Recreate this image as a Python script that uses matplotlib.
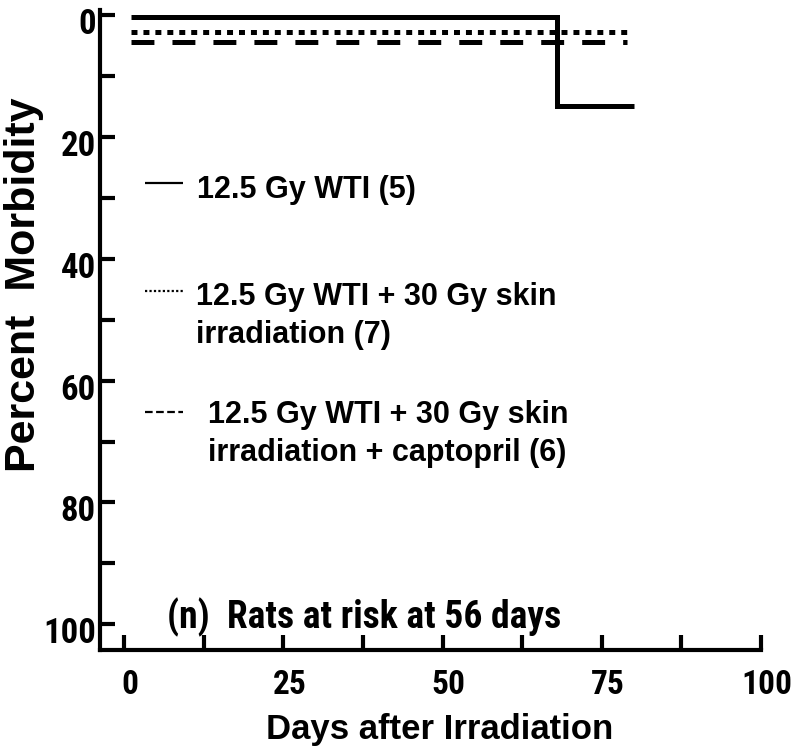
import matplotlib
matplotlib.use("Agg")
import matplotlib.pyplot as plt
from matplotlib.ticker import MultipleLocator, FixedLocator
from matplotlib.lines import Line2D
import matplotlib.transforms as mtransforms

# ---- data ----
wti_days = [1, 68, 80]
wti_morb = [0.4, 15, 15]

skin_days = [1, 79]
skin_morb = [2.8, 2.8]

capto_days = [1, 79]
capto_morb = [4.4, 4.4]

x_ticks = [0, 25, 50, 75, 100]
y_ticks = [0, 20, 40, 60, 80, 100]

legend_labels = ["12.5 Gy WTI (5)",
                 "12.5 Gy WTI + 30 Gy skin\nirradiation (7)",
                 "12.5 Gy WTI + 30 Gy skin\nirradiation + captopril (6)"]

plt.rcParams['lines.scale_dashes'] = False
NARROW = ['Roboto Condensed', 'IBM Plex Sans Condensed', 'Liberation Sans', 'DejaVu Sans']
REG = ['Liberation Sans', 'DejaVu Sans']

W, H = 800, 753
fig = plt.figure(figsize=(W / 100, H / 100), dpi=100)
ax = fig.add_axes([100 / W, (H - 650) / H, (761 - 100) / W, (650 - 10) / H])

lw = 3.6
ax.plot(wti_days, wti_morb, drawstyle='steps-post', color='black', lw=lw,
        solid_capstyle='butt', solid_joinstyle='miter')
ax.plot(skin_days, skin_morb, color='black', lw=lw, dashes=(4.3, 4.3),
        dash_capstyle='butt')
ax.plot(capto_days, capto_morb, color='black', lw=lw, dashes=(16.5, 13),
        dash_capstyle='butt')

ax.set_xlim(-3.8, 100)
ax.set_ylim(104.2, -0.8)

for s in ['top', 'right']:
    ax.spines[s].set_visible(False)
for s in ['left', 'bottom']:
    ax.spines[s].set_linewidth(3)
    ax.spines[s].set_capstyle('projecting')

ax.xaxis.set_major_locator(FixedLocator(x_ticks))
ax.xaxis.set_minor_locator(MultipleLocator(12.5))
ax.yaxis.set_major_locator(FixedLocator(y_ticks))
ax.yaxis.set_minor_locator(MultipleLocator(10))

ax.tick_params(axis='both', which='both', direction='in', width=3, length=11)
ax.tick_params(axis='x', which='major', pad=14)
ax.tick_params(axis='y', which='major', pad=3)

ax.set_xticklabels([str(v) for v in x_ticks], family=NARROW, weight='bold', fontsize=24)
ax.set_yticklabels([str(v) for v in y_ticks], family=NARROW, weight='bold', fontsize=25)
offx = mtransforms.ScaledTranslation(6 / 100, 0, fig.dpi_scale_trans)
for lab in ax.get_xticklabels():
    lab.set_transform(lab.get_transform() + offx)
offy = mtransforms.ScaledTranslation(0, -6 / 100, fig.dpi_scale_trans)
for lab in ax.get_yticklabels():
    lab.set_transform(lab.get_transform() + offy)

def fx(px):
    return px / W

def fy(py):
    return 1 - py / H

fig.text(fx(440), fy(729), "Days after Irradiation", family=REG, weight='bold',
         fontsize=25, ha='center', va='center')
fig.text(fx(24), fy(285), "Percent  Morbidity", family=REG, weight='bold',
         fontsize=31, ha='center', va='center', rotation=90)

# legend drawn as text with line samples
samples = [(None, 183), ((1.6, 1.6), 291), ((5.5, 2.5), 412)]
for dsh, py in samples:
    ln = Line2D([fx(145), fx(183)], [fy(py), fy(py)], transform=fig.transFigure,
                color='black', lw=1.6, solid_capstyle='butt', dash_capstyle='butt')
    if dsh is not None:
        ln.set_dashes(dsh)
    fig.add_artist(ln)

LEG_FS = 22
fig.text(fx(197), fy(198), legend_labels[0], family=REG, weight='bold',
         fontsize=LEG_FS, ha='left', va='baseline')
lines2 = legend_labels[1].split("\n")
lines3 = legend_labels[2].split("\n")
for txt, base in zip(lines2, [305, 343]):
    fig.text(fx(196), fy(base), txt, family=REG, weight='bold',
             fontsize=LEG_FS, ha='left', va='baseline')
for txt, base in zip(lines3, [423, 461]):
    fig.text(fx(208), fy(base), txt, family=REG, weight='bold',
             fontsize=LEG_FS, ha='left', va='baseline')

fig.text(fx(167), fy(628), "(n)  Rats at risk at 56 days", family=NARROW,
         weight='bold', fontsize=27, ha='left', va='baseline')

fig.savefig("out.png", dpi=100)
